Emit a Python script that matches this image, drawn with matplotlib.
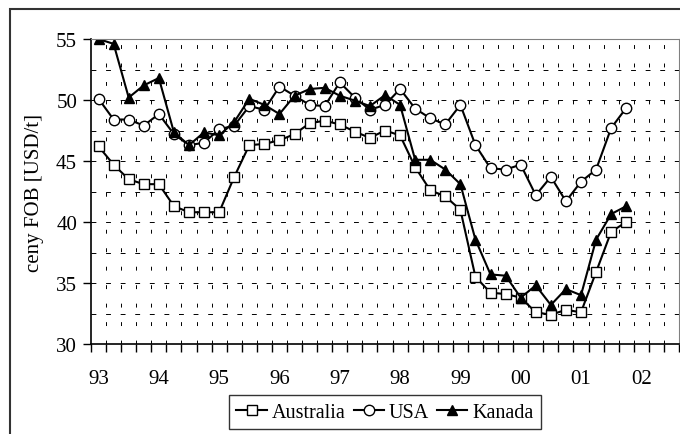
import numpy as np
import matplotlib.pyplot as plt
from matplotlib.patches import Rectangle

plt.rcParams['font.family'] = ['Liberation Serif', 'DejaVu Serif']

# quarters 93Q1 .. 02Q3 (39 categories, data up to 01Q4)
year_labels = ['93', '94', '95', '96', '97', '98', '99', '00', '01', '02']
n_categories = 39

australia = [46.2, 44.7, 43.5, 43.1, 43.1, 41.3, 40.8, 40.8, 40.8, 43.7,
             46.3, 46.4, 46.7, 47.2, 48.1, 48.3, 48.0, 47.4, 46.9, 47.5,
             47.1, 44.5, 42.6, 42.1, 41.0, 35.5, 34.2, 34.1, 33.8, 32.6,
             32.4, 32.8, 32.6, 35.9, 39.2, 40.0]
usa = [50.1, 48.4, 48.4, 47.9, 48.85, 47.2, 46.3, 46.5, 47.6, 47.9,
       49.5, 49.2, 51.1, 50.35, 49.6, 49.5, 51.45, 50.2, 49.2, 49.6,
       50.9, 49.3, 48.5, 48.0, 49.6, 46.3, 44.4, 44.3, 44.7, 42.2,
       43.7, 41.7, 43.3, 44.3, 47.7, 49.35]
kanada = [55.0, 54.6, 50.2, 51.2, 51.8, 47.35, 46.3, 47.35, 47.1, 48.2,
          50.1, 49.6, 48.85, 50.35, 50.9, 51.0, 50.35, 49.95, 49.5, 50.4,
          49.6, 45.1, 45.1, 44.3, 43.1, 38.55, 35.7, 35.6, 33.8, 34.8,
          33.2, 34.5, 34.0, 38.55, 40.65, 41.3]

fig = plt.figure(figsize=(6.8, 4.35), dpi=100)
ax = fig.add_axes([91/680, 90/435, 588/680, 305/435])

x = np.arange(len(australia))
ax.plot(x, australia, '-s', color='black', lw=1.5, ms=7, mfc='white', mec='black', mew=1.0, label='Australia')
ax.plot(x, usa, '-o', color='black', lw=1.5, ms=7.5, mfc='white', mec='black', mew=1.0, label='USA')
ax.plot(x, kanada, '-^', color='black', lw=1.5, ms=7.5, mfc='black', mec='black', mew=1.0, label='Kanada')

ax.set_xlim(-0.5, n_categories - 0.5)
ax.set_ylim(30, 55)

# grid
for b in np.arange(0.5, n_categories - 0.5, 1):
    ax.axvline(b, color='black', lw=0.7, ls=(0, (4, 15)), zorder=0)
for v in np.arange(32.5, 55, 2.5):
    ax.axhline(v, color='black', lw=0.7, ls=(0, (5, 10)), zorder=0)

# x axis: tick marks at boundaries, labels at every 4th category
ax.set_xticks(np.arange(-0.5, n_categories, 1))
ax.set_xticklabels([])
ax.tick_params(axis='x', which='major', direction='out', length=6, width=1)
ax.set_xticks(np.arange(0, n_categories, 4), minor=True)
ax.set_xticklabels(year_labels, minor=True, fontsize=15)
ax.tick_params(axis='x', which='minor', length=0, pad=18)

ax.set_yticks(np.arange(30, 56, 5))
ax.tick_params(axis='y', direction='out', length=6, width=1, labelsize=15, pad=4)

ax.spines['top'].set_color('#808080')
ax.spines['right'].set_color('#808080')
ax.spines['left'].set_linewidth(1.2)
ax.spines['bottom'].set_linewidth(1.2)

ax.set_ylabel('ceny FOB [USD/t]', fontsize=15, labelpad=9)

leg = ax.legend(loc='center', bbox_to_anchor=(385/680, 22/435), bbox_transform=fig.transFigure,
                ncol=3, fontsize=14.5, frameon=True, fancybox=False, edgecolor='black',
                handlelength=1.5, handletextpad=0.25, columnspacing=0.4, borderpad=0.35)
leg.get_frame().set_linewidth(1.0)

fig.patches.append(Rectangle((10/680, -0.1), 1.2, 1.1 - 10/435, transform=fig.transFigure,
                             fill=False, edgecolor='#333333', lw=1.5))

fig.savefig('out.png', dpi=100)
